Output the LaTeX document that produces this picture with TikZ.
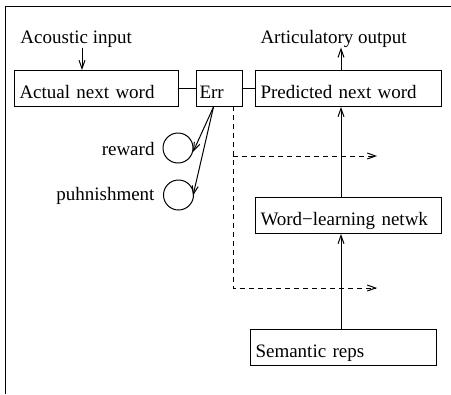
\documentclass[tikz,border=0pt]{standalone}
\usepackage{fontspec}
\setmainfont{Liberation Serif}
\usepackage{tikz}
\usetikzlibrary{arrows.meta}

\begin{document}
\begin{tikzpicture}[%
  x=0.6pt, y=-0.6pt,
  semithick,
  font=\fontsize{11.4}{13}\selectfont,
  >={Straight Barb[length=5pt,width=3.6pt]},
  unitbox/.style={draw, rectangle, anchor=north west,
    minimum height=21.6pt, text height=12pt, text depth=0pt,
    inner xsep=3pt, align=left},
  signal/.style={draw, circle, minimum size=18pt, inner sep=0pt},
  caption/.style={inner sep=0pt},
  errline/.style={dashed, dash pattern=on 3pt off 2.4pt}]

  \useasboundingbox (0,0) rectangle (451,394);
  \draw (5,394) -- (5,6) -- (451,6);

  % boxes
  \node[unitbox, text width=92.4pt] (actual) at (14,70) {Actual next word};
  \node[unitbox, text width=24pt, inner xsep=1.8pt] (err) at (196,70) {Err};
  \node[unitbox, text width=105.6pt] (predicted) at (255,70) {Predicted next word};
  \node[unitbox, text width=105.6pt] (wordnet) at (255,197) {Word\char"2212 learning netwk};
  \node[unitbox, text width=105.6pt] (semantic) at (250,329) {Semantic reps};

  % texts
  \node[caption, anchor=base west] (acoustic) at (20,43) {Acoustic input};
  \node[caption, anchor=base west] (artic) at (260,43) {Articulatory output};
  \node[signal] (reward) at (178,148) {};
  \node[signal] (punish) at (178.5,195) {};
  \node[caption, anchor=base east] (rewardlbl) at (155,155) {reward};
  \node[caption, anchor=base east] (punishlbl) at (155,200) {puhnishment};

  \coordinate (spine) at (341,0);
  \coordinate (inlet) at (82,0);
  \coordinate (errtap) at (233,106);
  \coordinate (dashhigh) at (377,156);
  \coordinate (dashlow) at (377,288);

  % connectors
  \draw[->] (acoustic.south -| inlet) -- (actual.north -| inlet);
  \draw (actual.east) -- (err.west);
  \draw (err.east) -- (predicted.west);
  \draw[->] (predicted.north -| spine) -- (artic.south -| spine);
  \draw[->] (wordnet.north -| spine) -- (predicted.south -| spine);
  \draw[->] (semantic.north -| spine) -- (wordnet.south -| spine);
  \draw[->] ([xshift=-3.6pt]err.south) -- (reward.-15);
  \draw[->, shorten >=-2pt] ([xshift=-3.6pt]err.south) -- (punish.10);
  \draw[errline, ->] (errtap) |- (dashlow);
  \draw[errline, ->] (errtap |- dashhigh) -- (dashhigh);
\end{tikzpicture}
\end{document}
